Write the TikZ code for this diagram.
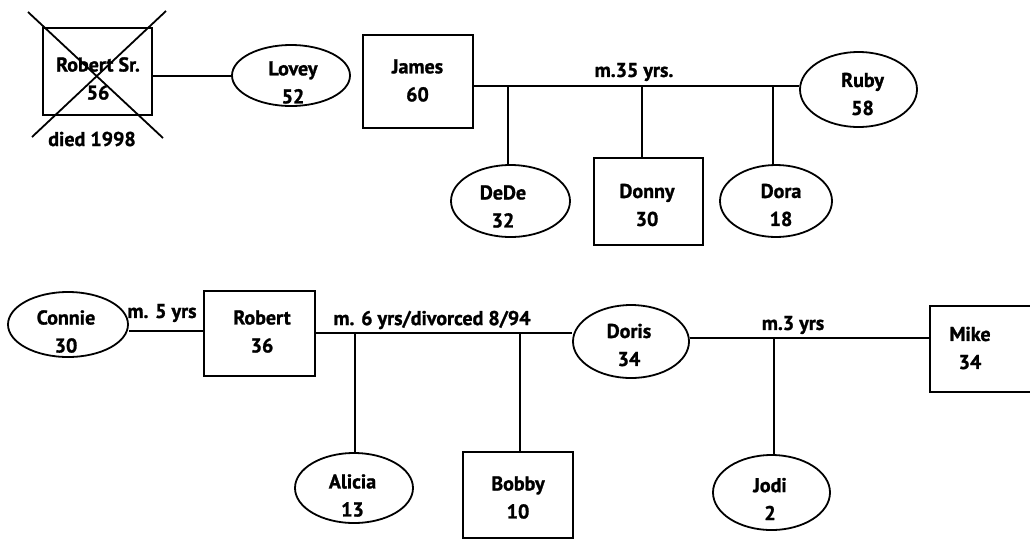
\documentclass[tikz,border=0pt]{standalone}
\usepackage{fontspec}
\setmainfont{PT Sans}[BoldFont={PT Sans Bold}, BoldFeatures={FakeBold=1.2}]
\usetikzlibrary{shapes.geometric}
\tikzset{
  lw/.style={line width=1.8pt},
  txt/.style={font=\bfseries\fontsize{20}{28}\selectfont, align=center, inner sep=0pt},
  pbox/.style={lw, draw, rectangle, inner sep=0pt},
  pell/.style={lw, draw, ellipse, inner sep=0pt},
  rel/.style={lw},
  lbl/.style={font=\bfseries\fontsize{20}{24}\selectfont, inner sep=0pt},
}
\begin{document}
\begin{tikzpicture}[x=1pt,y=-1pt]
\useasboundingbox (0,0) rectangle (1030,539);
\clip (0,0) rectangle (1030,539);
% top row shapes
\node[pbox, minimum width=109pt, minimum height=87pt] (RobSr) at (97.5,71.5) {};
\node[pell, minimum width=118pt, minimum height=61pt] (Lovey) at (291,75.5) {};
\node[pbox, minimum width=110pt, minimum height=93pt] (James) at (418,81.5) {};
\node[pell, minimum width=117pt, minimum height=75pt] (Ruby) at (858.5,89.5) {};
\node[pell, minimum width=119pt, minimum height=72pt] (DeDe) at (510.5,201) {};
\node[pbox, minimum width=109pt, minimum height=87pt] (Donny) at (648.5,201.5) {};
\node[pell, minimum width=112pt, minimum height=72pt] (Dora) at (776,201) {};
% top row texts
\node[txt] (RobSrT) at (98,78.5) {Robert Sr.\\56};
\node[txt] (LoveyT) at (293,82.5) {Lovey\\52};
\node[txt] (JamesT) at (417.5,80.5) {James\\60};
\node[txt] (RubyT) at (862.5,94) {Ruby\\58};
\node[txt] (DeDeT) at (503,206.5) {DeDe\\32};
\node[txt] (DonnyT) at (647,205) {Donny\\30};
\node[txt] (DoraT) at (781,205) {Dora\\18};
\node[lbl] (died) at (92,139) {died 1998};
% cross over Robert Sr.
\coordinate (x1a) at (28,12);
\coordinate (x1b) at (163,138);
\coordinate (x2a) at (166,11);
\coordinate (x2b) at (32,137);
\draw[lw] (x1a) -- (x1b);
\draw[lw] (x2a) -- (x2b);
% top relations
\coordinate (mRL) at (0,76);
\draw[rel] (RobSr.east |- mRL) -- (Lovey.west |- mRL);
\coordinate (mJR) at (0,86);
\draw[rel] (James.east |- mJR) -- (Ruby.west |- mJR);
\node[lbl] (lJR) at (634,72) {m.35 yrs.};
\coordinate (dX) at (508,0);
\coordinate (nX) at (642,0);
\coordinate (oX) at (773,0);
\draw[rel] (DeDe.north -| dX) -- (dX |- mJR);
\draw[rel] (Donny.north -| nX) -- (nX |- mJR);
\draw[rel] (Dora.north -| oX) -- (oX |- mJR);
% bottom row shapes
\node[pell, minimum width=120pt, minimum height=65pt] (Connie) at (68,324.5) {};
\node[pbox, minimum width=111pt, minimum height=85pt] (Robert) at (259.5,333.5) {};
\node[pell, minimum width=116pt, minimum height=73pt] (Doris) at (631,341.5) {};
\node[pbox, minimum width=115pt, minimum height=86pt] (Mike) at (987.5,349) {};
\node[pell, minimum width=118pt, minimum height=70pt] (Alicia) at (354,488) {};
\node[pbox, minimum width=110pt, minimum height=86pt] (Bobby) at (518,495) {};
\node[pell, minimum width=117pt, minimum height=75pt] (Jodi) at (771.5,492.5) {};
% bottom row texts
\node[txt] (ConnieT) at (66,331.5) {Connie\\30};
\node[txt] (RobertT) at (262,331.5) {Robert\\36};
\node[txt] (DorisT) at (629,345) {Doris\\34};
\node[txt] (MikeT) at (970,348) {Mike\\34};
\node[txt] (AliciaT) at (352.5,495.5) {Alicia\\13};
\node[txt] (BobbyT) at (518,497.5) {Bobby\\10};
\node[txt] (JodiT) at (770,499) {Jodi\\2};
% bottom relations
\coordinate (mCR) at (0,331);
\draw[rel] (Connie.east |- mCR) -- (Robert.west |- mCR);
\node[lbl] (lCR) at (162,313) {m. 5 yrs};
\coordinate (mRD) at (0,333);
\draw[rel] (Robert.east |- mRD) -- (Doris.west |- mRD);
\node[lbl] (lRD) at (432,320) {m. 6 yrs/divorced 8/94};
\coordinate (aX) at (355,0);
\coordinate (bX) at (520,0);
\draw[rel] (Alicia.north -| aX) -- (aX |- mRD);
\draw[rel] (Bobby.north -| bX) -- (bX |- mRD);
\coordinate (mDM) at (0,338);
\draw[rel] (Doris.east |- mDM) -- (Mike.west |- mDM);
\node[lbl] (lDM) at (793,325) {m.3 yrs};
\coordinate (jX) at (774,0);
\draw[rel] (Jodi.north -| jX) -- (jX |- mDM);
\end{tikzpicture}
\end{document}
